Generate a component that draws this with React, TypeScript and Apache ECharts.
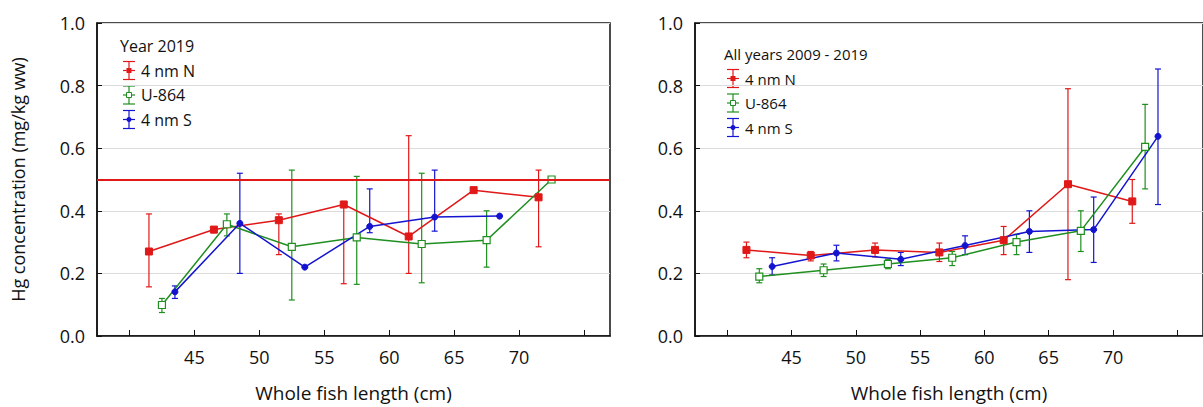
import React, { useEffect, useRef } from "react";
import * as echarts from "echarts";

// Left panel: Year 2019  [x, mean, low, high]
const left4nmN = [
  [41.5, 0.27, 0.157, 0.39], [46.5, 0.34, 0.33, 0.345], [51.5, 0.37, 0.26, 0.39],
  [56.5, 0.42, 0.167, 0.43], [61.5, 0.318, 0.2, 0.64], [66.5, 0.466, 0.46, 0.47],
  [71.5, 0.443, 0.285, 0.53],
];
const leftU864 = [
  [42.5, 0.099, 0.075, 0.12], [47.5, 0.357, 0.32, 0.39], [52.5, 0.285, 0.115, 0.53],
  [57.5, 0.315, 0.165, 0.51], [62.5, 0.294, 0.17, 0.52], [67.5, 0.306, 0.22, 0.4],
  [72.5, 0.5, 0.5, 0.5],
];
const left4nmS = [
  [43.5, 0.141, 0.12, 0.16], [48.5, 0.36, 0.2, 0.52], [53.5, 0.22, 0.22, 0.22],
  [58.5, 0.35, 0.33, 0.47], [63.5, 0.38, 0.335, 0.53], [68.5, 0.383, 0.383, 0.383],
];
// Right panel: All years 2009 - 2019
const right4nmN = [
  [41.5, 0.275, 0.25, 0.3], [46.5, 0.257, 0.24, 0.27], [51.5, 0.275, 0.253, 0.297],
  [56.5, 0.267, 0.238, 0.297], [61.5, 0.306, 0.26, 0.35], [66.5, 0.485, 0.18, 0.79],
  [71.5, 0.43, 0.36, 0.5],
];
const rightU864 = [
  [42.5, 0.19, 0.17, 0.215], [47.5, 0.21, 0.19, 0.23], [52.5, 0.23, 0.215, 0.245],
  [57.5, 0.25, 0.225, 0.27], [62.5, 0.3, 0.26, 0.325], [67.5, 0.336, 0.27, 0.4],
  [72.5, 0.604, 0.47, 0.74],
];
const right4nmS = [
  [43.5, 0.222, 0.195, 0.25], [48.5, 0.265, 0.24, 0.29], [53.5, 0.245, 0.225, 0.267],
  [58.5, 0.289, 0.26, 0.32], [63.5, 0.334, 0.267, 0.4], [68.5, 0.34, 0.235, 0.444],
  [73.5, 0.638, 0.42, 0.853],
];
const xTicks = [40, 45, 50, 55, 60, 65, 70, 75];
const limitValue = 0.5;

const RED = "#e01818";
const GREEN = "#1f8f1f";
const BLUE = "#1414d0";
const FONT = "'Open Sans', 'Noto Sans', sans-serif";

function errorSeries(data: number[][], color: string, idx: number) {
  return {
    type: "custom",
    xAxisIndex: idx,
    yAxisIndex: idx,
    data: data.map((d) => [d[0], d[2], d[3]]),
    z: 3,
    renderItem: (_p: any, api: any) => {
      const lo = api.coord([api.value(0), api.value(1)]);
      const hi = api.coord([api.value(0), api.value(2)]);
      const w = 3;
      const st = { stroke: color, lineWidth: 1.2 };
      return {
        type: "group",
        children: [
          { type: "line", shape: { x1: lo[0], y1: lo[1], x2: hi[0], y2: hi[1] }, style: st },
          { type: "line", shape: { x1: lo[0] - w, y1: lo[1], x2: lo[0] + w, y2: lo[1] }, style: st },
          { type: "line", shape: { x1: hi[0] - w, y1: hi[1], x2: hi[0] + w, y2: hi[1] }, style: st },
        ],
      };
    },
  };
}

function lineSeries(name: string, data: number[][], color: string, symbol: string, hollow: boolean, idx: number) {
  return {
    type: "line",
    name,
    xAxisIndex: idx,
    yAxisIndex: idx,
    data: data.map((d) => [d[0], d[1]]),
    symbol,
    symbolSize: symbol === "circle" ? 6 : 7,
    showSymbol: true,
    z: 4,
    lineStyle: { color, width: 1.5 },
    itemStyle: hollow ? { color: "#fff", borderColor: color, borderWidth: 1.2 } : { color, borderColor: color },
  };
}

function legend(x: number, y: number, title: string, size: number) {
  const items = [["4 nm N", RED, "rect"], ["U-864", GREEN, "hollow"], ["4 nm S", BLUE, "circle"]];
  const children: any[] = [
    { type: "text", x, y, style: { text: title, font: `${size}px ${FONT}`, fill: "#111", textVerticalAlign: "middle" } },
  ];
  items.forEach(([label, color, kind], i) => {
    const cy = y + 24.5 * (i + 1);
    const cx = x + 9;
    const st = { stroke: color, lineWidth: 1.2 };
    children.push(
      { type: "line", shape: { x1: cx, y1: cy - 9, x2: cx, y2: cy + 9 }, style: st },
      { type: "line", shape: { x1: cx - 6, y1: cy - 9, x2: cx + 6, y2: cy - 9 }, style: st },
      { type: "line", shape: { x1: cx - 6, y1: cy + 9, x2: cx + 6, y2: cy + 9 }, style: st },
      { type: "line", shape: { x1: cx - 6, y1: cy, x2: cx + 6, y2: cy }, style: st },
      kind === "circle"
        ? { type: "circle", shape: { cx, cy, r: 2.5 }, style: { fill: color } }
        : { type: "rect", shape: { x: cx - 2.5, y: cy - 2.5, width: 5, height: 5 }, style: kind === "hollow" ? { fill: "#fff", stroke: color } : { fill: color } },
      { type: "text", x: cx + 12, y: cy, style: { text: label, font: `${size}px ${FONT}`, fill: "#111", textVerticalAlign: "middle" } }
    );
  });
  return { type: "group", children };
}

export default function App() {
  const ref = useRef<HTMLDivElement | null>(null);
  useEffect(() => {
    if (!ref.current) return;
    const chart = echarts.init(ref.current, undefined, { renderer: "svg" });
    const mkX = (gi: number) => ({
      type: "value",
      gridIndex: gi,
      min: 37.5,
      max: 77,
      interval: 5,
      name: "Whole fish length (cm)",
      nameLocation: "middle",
      nameGap: 47,
      nameTextStyle: { fontSize: 19, color: "#111", fontFamily: FONT },
      axisLine: { show: true, onZero: false, lineStyle: { color: "#111", width: 1.5 } },
      axisTick: { show: true, inside: true, length: 6, customValues: xTicks, lineStyle: { color: "#111" } },
      axisLabel: {
        customValues: xTicks.filter((v) => v >= 45 && v <= 70),
        fontSize: 18, color: "#111", fontFamily: FONT, margin: 12,
      },
      splitLine: { show: false },
    });
    const mkY = (gi: number) => ({
      type: "value",
      gridIndex: gi,
      min: 0,
      max: 1,
      interval: 0.2,
      name: gi === 0 ? "Hg concentration (mg/kg ww)" : "",
      nameLocation: "middle",
      nameGap: 70,
      nameTextStyle: { fontSize: 18, color: "#111", fontFamily: FONT },
      axisLine: { show: true, lineStyle: { color: "#111", width: 1.5 } },
      axisTick: { show: true, inside: true, length: 5, lineStyle: { color: "#111" } },
      axisLabel: { formatter: (v: number) => v.toFixed(1), fontSize: 18, color: "#111", fontFamily: FONT, margin: 12 },
      splitLine: { show: true, lineStyle: { color: "#dcdcdc", width: 1 } },
    });
    chart.setOption({
      animation: false,
      backgroundColor: "#fff",
      grid: [
        { left: 97, top: 23, width: 513, height: 317, show: true, borderColor: "#111", borderWidth: 1.5, backgroundColor: "transparent" },
        { left: 695, top: 23, width: 513, height: 317, show: true, borderColor: "#111", borderWidth: 1.5, backgroundColor: "transparent" },
      ],
      xAxis: [mkX(0), mkX(1)],
      yAxis: [mkY(0), mkY(1)],
      graphic: [legend(120, 46, "Year 2019", 16), legend(724, 54, "All years 2009 - 2019", 15)],
      series: [
        {
          type: "line", xAxisIndex: 0, yAxisIndex: 0, data: [], z: 2,
          markLine: {
            silent: true, symbol: "none", label: { show: false },
            lineStyle: { color: RED, width: 2, type: "solid" },
            data: [{ yAxis: limitValue }],
          },
        },
        errorSeries(left4nmN, RED, 0),
        errorSeries(leftU864, GREEN, 0),
        errorSeries(left4nmS, BLUE, 0),
        lineSeries("4 nm N", left4nmN, RED, "rect", false, 0),
        lineSeries("U-864", leftU864, GREEN, "rect", true, 0),
        lineSeries("4 nm S", left4nmS, BLUE, "circle", false, 0),
        errorSeries(right4nmN, RED, 1),
        errorSeries(rightU864, GREEN, 1),
        errorSeries(right4nmS, BLUE, 1),
        lineSeries("4 nm N", right4nmN, RED, "rect", false, 1),
        lineSeries("U-864", rightU864, GREEN, "rect", true, 1),
        lineSeries("4 nm S", right4nmS, BLUE, "circle", false, 1),
      ],
    });
    return () => chart.dispose();
  }, []);
  return (
    <div
      ref={ref}
      style={{ position: "fixed", left: 0, top: 0, width: 1203, height: 407, overflow: "hidden" }}
    />
  );
}
